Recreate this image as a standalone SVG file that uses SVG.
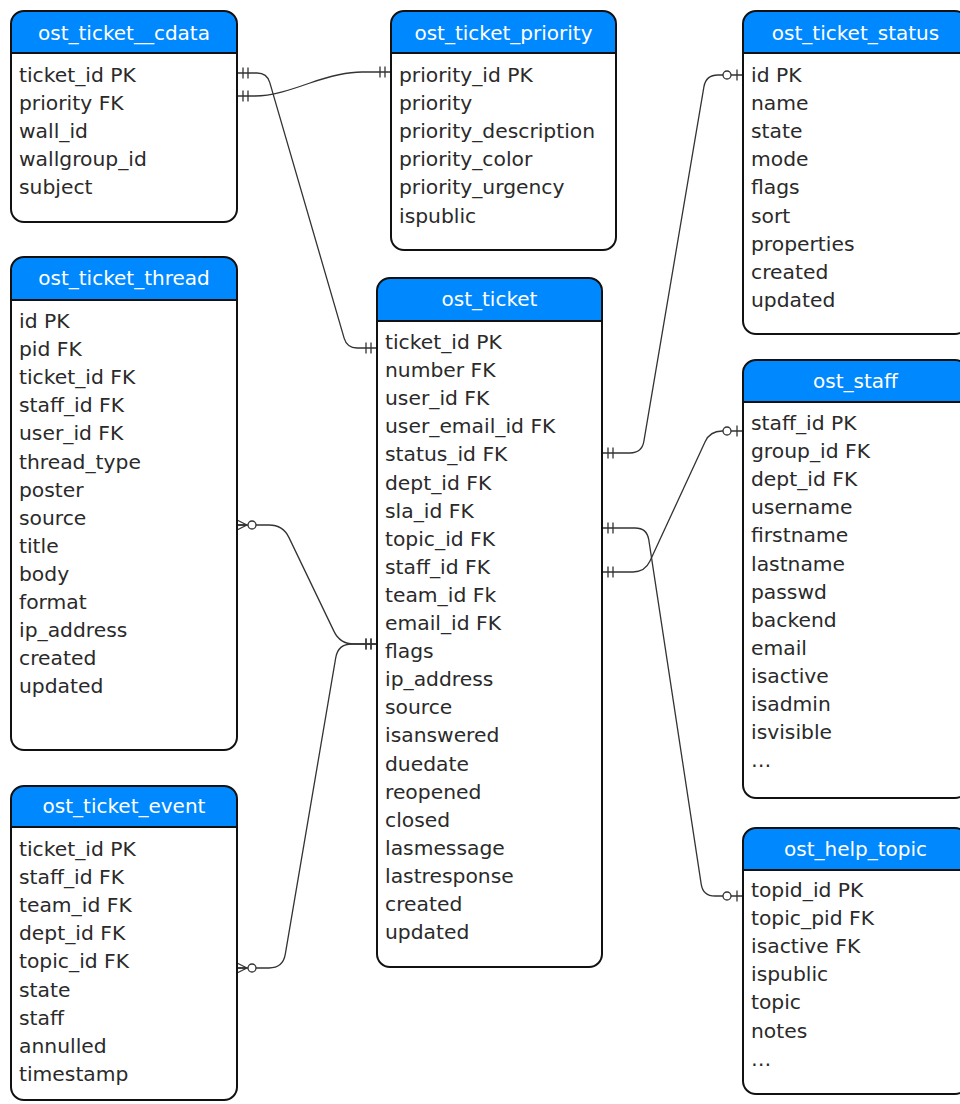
<svg xmlns="http://www.w3.org/2000/svg" width="960" height="1104" viewBox="0 0 960 1104">
<style>
.body{fill:#fff;stroke:none}
.frame{fill:none;stroke:#111;stroke-width:2}
.head{fill:#0088ff;stroke:none}
.div{stroke:#111;stroke-width:2}
.title{font-family:"DejaVu Sans",sans-serif;font-size:20px;fill:#fff;text-anchor:middle}
.rows{font-family:"DejaVu Sans",sans-serif;font-size:20.3px;fill:#2a2a2a}
.conn{fill:none;stroke:#333;stroke-width:1.3}
.mk{fill:#fff;stroke:#333;stroke-width:1.3}
</style>
<defs>
<marker id="mandOne" markerUnits="userSpaceOnUse" orient="auto-start-reverse" refX="0" refY="0" markerWidth="20" markerHeight="20" overflow="visible">
<path class="mk" d="M-6,-5.5 V5.5 M-11,-5.5 V5.5"/>
</marker>
<marker id="zeroOne" markerUnits="userSpaceOnUse" orient="auto-start-reverse" refX="0" refY="0" markerWidth="20" markerHeight="20" overflow="visible">
<path class="mk" d="M-6,-5.5 V5.5"/>
<circle class="mk" cx="-16" cy="0" r="4"/>
</marker>
<marker id="zeroMany" markerUnits="userSpaceOnUse" orient="auto-start-reverse" refX="0" refY="0" markerWidth="20" markerHeight="20" overflow="visible">
<path class="mk" d="M-10,0 L0,-5 M-10,0 L0,5 M-10,0 L0,0"/>
<circle class="mk" cx="-15" cy="0" r="4"/>
</marker>
</defs>

<g id="connectors">
<path class="conn" d="M237,73 H257 Q267,73 269.8,82.6 L344.2,338.4 Q347,348 357,348 H377" marker-start="url(#mandOne)" marker-end="url(#mandOne)"/>
<path class="conn" d="M237,96 H255 C272,96 290,90 310,83 C330,76 345,72 362,72 H391" marker-start="url(#mandOne)" marker-end="url(#mandOne)"/>
<path class="conn" d="M602,453 H630 Q642,453 643.9,441.2 L703.9,86.8 Q706,75 718,75 H743" marker-start="url(#mandOne)" marker-end="url(#zeroOne)"/>
<path class="conn" d="M602,572 H633 Q645,572 650,561.1 L705,441.9 Q710,431 722,431 H743" marker-start="url(#mandOne)" marker-end="url(#zeroOne)"/>
<path class="conn" d="M602,528 H635 Q647,528 648.8,539.9 L701.2,884.1 Q703,896 715,896 H743" marker-start="url(#mandOne)" marker-end="url(#zeroOne)"/>
<path class="conn" d="M237,525 H269 Q283,525 289,537.6 L334,631.4 Q340,644 354,644 H377" marker-start="url(#zeroMany)" marker-end="url(#mandOne)"/>
<path class="conn" d="M237,968 H269 Q283,968 285.3,954.2 L335.7,657.8 Q338,644 352,644 H377" marker-start="url(#zeroMany)" marker-end="url(#mandOne)"/>
</g>

<g id="ost_ticket__cdata">
<rect class="body" x="11" y="11" width="226" height="211" rx="13"/>
<path class="head" d="M11,53 V24 A13,13 0 0 1 24,11 H224 A13,13 0 0 1 237,24 V53 Z"/>
<line class="div" x1="11" y1="53" x2="237" y2="53"/>
<rect class="frame" x="11" y="11" width="226" height="211" rx="13"/>
<text class="title" x="124" y="40">ost_ticket__cdata</text>
<text class="rows" x="19" y="82"><tspan x="19">ticket_id PK</tspan><tspan x="19" dy="28.1">priority FK</tspan><tspan x="19" dy="28.1">wall_id</tspan><tspan x="19" dy="28.1">wallgroup_id</tspan><tspan x="19" dy="28.1">subject</tspan></text>
</g>

<g id="ost_ticket_priority">
<rect class="body" x="391" y="11" width="225" height="239" rx="13"/>
<path class="head" d="M391,53 V24 A13,13 0 0 1 404,11 H603 A13,13 0 0 1 616,24 V53 Z"/>
<line class="div" x1="391" y1="53" x2="616" y2="53"/>
<rect class="frame" x="391" y="11" width="225" height="239" rx="13"/>
<text class="title" x="503.5" y="40">ost_ticket_priority</text>
<text class="rows" x="399" y="82"><tspan x="399">priority_id PK</tspan><tspan x="399" dy="28.1">priority</tspan><tspan x="399" dy="28.1">priority_description</tspan><tspan x="399" dy="28.1">priority_color</tspan><tspan x="399" dy="28.1">priority_urgency</tspan><tspan x="399" dy="28.1">ispublic</tspan></text>
</g>

<g id="ost_ticket_status">
<rect class="body" x="743" y="11" width="225" height="323" rx="13"/>
<path class="head" d="M743,53 V24 A13,13 0 0 1 756,11 H955 A13,13 0 0 1 968,24 V53 Z"/>
<line class="div" x1="743" y1="53" x2="968" y2="53"/>
<rect class="frame" x="743" y="11" width="225" height="323" rx="13"/>
<text class="title" x="855.5" y="40">ost_ticket_status</text>
<text class="rows" x="751" y="82"><tspan x="751">id PK</tspan><tspan x="751" dy="28.1">name</tspan><tspan x="751" dy="28.1">state</tspan><tspan x="751" dy="28.1">mode</tspan><tspan x="751" dy="28.1">flags</tspan><tspan x="751" dy="28.1">sort</tspan><tspan x="751" dy="28.1">properties</tspan><tspan x="751" dy="28.1">created</tspan><tspan x="751" dy="28.1">updated</tspan></text>
</g>

<g id="ost_ticket_thread">
<rect class="body" x="11" y="257" width="226" height="493" rx="13"/>
<path class="head" d="M11,300 V270 A13,13 0 0 1 24,257 H224 A13,13 0 0 1 237,270 V300 Z"/>
<line class="div" x1="11" y1="300" x2="237" y2="300"/>
<rect class="frame" x="11" y="257" width="226" height="493" rx="13"/>
<text class="title" x="124" y="285">ost_ticket_thread</text>
<text class="rows" x="19" y="328"><tspan x="19">id PK</tspan><tspan x="19" dy="28.1">pid FK</tspan><tspan x="19" dy="28.1">ticket_id FK</tspan><tspan x="19" dy="28.1">staff_id FK</tspan><tspan x="19" dy="28.1">user_id FK</tspan><tspan x="19" dy="28.1">thread_type</tspan><tspan x="19" dy="28.1">poster</tspan><tspan x="19" dy="28.1">source</tspan><tspan x="19" dy="28.1">title</tspan><tspan x="19" dy="28.1">body</tspan><tspan x="19" dy="28.1">format</tspan><tspan x="19" dy="28.1">ip_address</tspan><tspan x="19" dy="28.1">created</tspan><tspan x="19" dy="28.1">updated</tspan></text>
</g>

<g id="ost_ticket_event">
<rect class="body" x="11" y="786" width="226" height="314" rx="13"/>
<path class="head" d="M11,827 V799 A13,13 0 0 1 24,786 H224 A13,13 0 0 1 237,799 V827 Z"/>
<line class="div" x1="11" y1="827" x2="237" y2="827"/>
<rect class="frame" x="11" y="786" width="226" height="314" rx="13"/>
<text class="title" x="124" y="813">ost_ticket_event</text>
<text class="rows" x="19" y="856"><tspan x="19">ticket_id PK</tspan><tspan x="19" dy="28.1">staff_id FK</tspan><tspan x="19" dy="28.1">team_id FK</tspan><tspan x="19" dy="28.1">dept_id FK</tspan><tspan x="19" dy="28.1">topic_id FK</tspan><tspan x="19" dy="28.1">state</tspan><tspan x="19" dy="28.1">staff</tspan><tspan x="19" dy="28.1">annulled</tspan><tspan x="19" dy="28.1">timestamp</tspan></text>
</g>

<g id="ost_ticket">
<rect class="body" x="377" y="278" width="225" height="689" rx="13"/>
<path class="head" d="M377,321 V291 A13,13 0 0 1 390,278 H589 A13,13 0 0 1 602,291 V321 Z"/>
<line class="div" x1="377" y1="321" x2="602" y2="321"/>
<rect class="frame" x="377" y="278" width="225" height="689" rx="13"/>
<text class="title" x="489.5" y="306">ost_ticket</text>
<text class="rows" x="385" y="349"><tspan x="385">ticket_id PK</tspan><tspan x="385" dy="28.1">number FK</tspan><tspan x="385" dy="28.1">user_id FK</tspan><tspan x="385" dy="28.1">user_email_id FK</tspan><tspan x="385" dy="28.1">status_id FK</tspan><tspan x="385" dy="28.1">dept_id FK</tspan><tspan x="385" dy="28.1">sla_id FK</tspan><tspan x="385" dy="28.1">topic_id FK</tspan><tspan x="385" dy="28.1">staff_id FK</tspan><tspan x="385" dy="28.1">team_id Fk</tspan><tspan x="385" dy="28.1">email_id FK</tspan><tspan x="385" dy="28.1">flags</tspan><tspan x="385" dy="28.1">ip_address</tspan><tspan x="385" dy="28.1">source</tspan><tspan x="385" dy="28.1">isanswered</tspan><tspan x="385" dy="28.1">duedate</tspan><tspan x="385" dy="28.1">reopened</tspan><tspan x="385" dy="28.1">closed</tspan><tspan x="385" dy="28.1">lasmessage</tspan><tspan x="385" dy="28.1">lastresponse</tspan><tspan x="385" dy="28.1">created</tspan><tspan x="385" dy="28.1">updated</tspan></text>
</g>

<g id="ost_staff">
<rect class="body" x="743" y="360" width="225" height="438" rx="13"/>
<path class="head" d="M743,402 V373 A13,13 0 0 1 756,360 H955 A13,13 0 0 1 968,373 V402 Z"/>
<line class="div" x1="743" y1="402" x2="968" y2="402"/>
<rect class="frame" x="743" y="360" width="225" height="438" rx="13"/>
<text class="title" x="855.5" y="388">ost_staff</text>
<text class="rows" x="751" y="430"><tspan x="751">staff_id PK</tspan><tspan x="751" dy="28.1">group_id FK</tspan><tspan x="751" dy="28.1">dept_id FK</tspan><tspan x="751" dy="28.1">username</tspan><tspan x="751" dy="28.1">firstname</tspan><tspan x="751" dy="28.1">lastname</tspan><tspan x="751" dy="28.1">passwd</tspan><tspan x="751" dy="28.1">backend</tspan><tspan x="751" dy="28.1">email</tspan><tspan x="751" dy="28.1">isactive</tspan><tspan x="751" dy="28.1">isadmin</tspan><tspan x="751" dy="28.1">isvisible</tspan><tspan x="751" dy="28.1">…</tspan></text>
</g>

<g id="ost_help_topic">
<rect class="body" x="743" y="828" width="225" height="266" rx="13"/>
<path class="head" d="M743,870 V841 A13,13 0 0 1 756,828 H955 A13,13 0 0 1 968,841 V870 Z"/>
<line class="div" x1="743" y1="870" x2="968" y2="870"/>
<rect class="frame" x="743" y="828" width="225" height="266" rx="13"/>
<text class="title" x="855.5" y="856">ost_help_topic</text>
<text class="rows" x="751" y="897"><tspan x="751">topid_id PK</tspan><tspan x="751" dy="28.1">topic_pid FK</tspan><tspan x="751" dy="28.1">isactive FK</tspan><tspan x="751" dy="28.1">ispublic</tspan><tspan x="751" dy="28.1">topic</tspan><tspan x="751" dy="28.1">notes</tspan><tspan x="751" dy="28.1">…</tspan></text>
</g>
</svg>
